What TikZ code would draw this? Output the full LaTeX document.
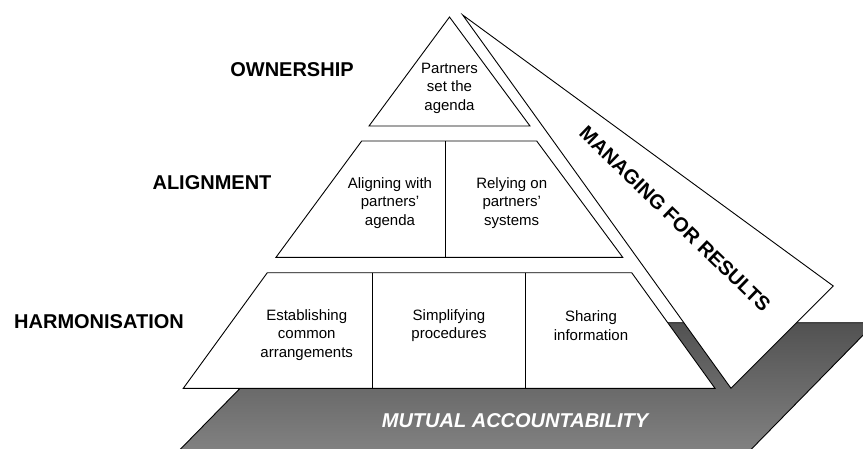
\documentclass[tikz,border=0pt]{standalone}
\usepackage{fontspec}
\setmainfont{Liberation Sans}
\tikzstyle{cellText}=[align = center, inner sep = 0pt, font = \fontsize{15}{18.5}\selectfont]
\tikzstyle{levelText}=[inner sep = 0pt, font = \fontsize{20}{24}\selectfont\bfseries]

\begin{document}
\begin{tikzpicture}[x = 1pt, y = -1pt, line width = 0.9pt]
\tikzstyle{blockStyle} = [draw, fill = white, line join = miter]
\tikzstyle{baseStyle} = [top color = black!68, bottom color = black!48, draw = black]
\useasboundingbox (0,0) rectangle (863,448);
\begin{scope}
\clip (0,0) rectangle (863,448);
\shade[baseStyle] (304.3,322.7) -- (875.3,322.7) -- (740.7,460) -- (169.8,460) -- cycle;
\end{scope}
\path[blockStyle] (462.7,15) -- (833.3,286) -- (731,388.3) -- cycle;
\path[blockStyle] (449.5,17) -- (530,126) -- (369,126) -- cycle;
\path[blockStyle] (361.7,141) -- (536.7,141) -- (622.7,257.3) -- (276,257.3) -- cycle;
\path[blockStyle] (267.3,272.7) -- (631.7,272.7) -- (715,388.3) -- (183.3,388.3) -- cycle;
\draw (445,141) -- (445,257.3);
\draw (372.3,272.7) -- (372.3,388.3);
\draw (525.7,272.7) -- (525.7,388.3);
\node[levelText] (own) at (292,70) {OWNERSHIP};
\node[levelText] (ali) at (212,183) {ALIGNMENT};
\node[levelText] (har) at (99,322) {HARMONISATION};
\node[cellText] (c0) at (449.5,88) {Partners\\set the\\agenda};
\node[cellText] (c1) at (390,203) {Aligning with\\partners'\\agenda};
\node[cellText] (c2) at (511.7,203) {Relying on\\partners'\\systems};
\node[cellText] (c3) at (306.7,335) {Establishing\\common\\arrangements};
\node[cellText] (c4) at (449,325.5) {Simplifying\\procedures};
\node[cellText] (c5) at (591,325.5) {Sharing\\information};
\node[levelText, rotate = -44] (mfr) at (675,219) {MANAGING FOR RESULTS};
\node[levelText, text = white, font = \fontsize{20}{24}\selectfont\bfseries\itshape] (mut) at (515,421) {MUTUAL ACCOUNTABILITY};
\end{tikzpicture}
\end{document}
